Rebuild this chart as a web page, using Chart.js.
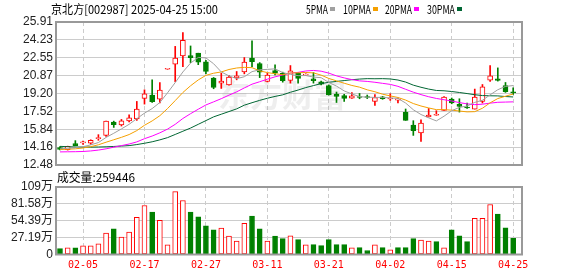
<!DOCTYPE html>
<html>
<head>
<meta charset="utf-8">
<script src="https://cdn.jsdelivr.net/npm/chart.js@4.4.1/dist/chart.umd.min.js"></script>
<style>
    html, body { margin: 0; padding: 0; background: #fff; }
    #wrap { position: relative; width: 578px; height: 276px; }
    #wrap canvas { position: absolute; left: 0; top: 0; }
</style>
</head>
<body>
<div id="wrap">
    <canvas id="k_chart" width="578" height="276"></canvas>
    <canvas id="v_chart" width="578" height="276"></canvas>
</div>
<script>
// daily data
const DATES = ["01-23","01-24","01-27","02-05","02-06","02-07","02-10","02-11","02-12","02-13",
    "02-14","02-17","02-18","02-19","02-20","02-21","02-24","02-25","02-26","02-27",
    "02-28","03-03","03-04","03-05","03-06","03-07","03-10","03-11","03-12","03-13",
    "03-14","03-17","03-18","03-19","03-20","03-21","03-24","03-25","03-26","03-27",
    "03-28","03-31","04-01","04-02","04-03","04-07","04-08","04-09","04-10","04-11",
    "04-14","04-15","04-16","04-17","04-18","04-21","04-22","04-23","04-24","04-25"];
const OPEN = [14.12,13.92,14.49,14.56,14.52,14.95,15.26,16.52,16.24,16.61,
    16.80,18.73,19.05,18.67,21.47,21.95,22.73,22.75,22.98,22.16,
    20.64,20.17,20.01,20.67,21.23,22.51,22.01,20.32,21.35,21.10,
    20.42,21.10,20.92,20.57,20.29,19.95,19.14,19.01,18.76,18.89,
    18.90,18.45,18.89,18.68,18.57,17.42,16.24,15.49,16.99,17.15,
    17.60,18.67,18.17,17.89,17.73,18.45,20.45,20.57,19.95,19.36];
const HIGH = [14.20,14.25,14.77,14.72,14.85,15.33,16.61,16.60,16.76,17.20,
    18.45,19.54,20.48,20.23,21.47,23.62,24.91,23.66,22.98,22.32,
    20.70,21.10,20.90,21.26,22.57,24.13,22.10,21.10,21.88,21.20,
    21.82,21.15,21.05,21.16,20.35,20.00,19.33,19.12,19.29,19.20,
    19.05,19.10,18.92,19.17,18.77,17.74,16.64,16.73,17.79,17.58,
    18.90,18.77,18.70,18.30,19.61,20.04,21.82,21.60,20.23,19.73];
const LOW = [13.90,13.88,14.28,14.42,14.42,14.80,15.17,16.01,16.14,16.52,
    16.67,18.20,18.35,18.30,21.47,20.30,21.72,22.10,21.90,21.05,
    19.64,19.67,19.98,20.48,21.04,21.72,20.69,20.28,20.95,20.26,
    20.17,20.17,20.90,20.17,20.00,19.05,18.35,18.45,18.74,18.70,
    18.72,18.07,18.65,18.55,18.30,16.67,15.26,14.70,16.99,17.15,
    17.60,18.23,17.45,17.80,17.73,18.30,20.32,20.36,19.30,19.10];
const CLOSE = [13.95,14.23,14.30,14.60,14.80,15.05,16.61,16.27,16.64,16.92,
    17.73,19.17,18.42,19.52,21.47,22.51,24.20,22.57,22.14,21.26,
    19.76,20.36,20.73,20.85,22.14,22.19,21.20,20.92,21.10,20.39,
    21.32,20.60,21.00,20.39,20.07,19.07,18.92,18.73,18.98,18.82,
    18.82,18.82,18.70,18.72,18.57,16.67,15.70,16.42,17.18,17.15,
    18.85,18.30,17.98,17.83,18.85,19.82,20.85,20.42,19.36,19.26];
const VOLUME = [95000,106000,106000,138000,138000,170000,345000,414000,281000,361000,
    600000,790000,684000,552000,154000,1013000,870000,684000,605000,462000,
    398000,424000,297000,218000,504000,621000,414000,218000,297000,255000,
    302000,239000,154000,159000,143000,239000,159000,159000,106000,111000,
    64000,154000,111000,74000,111000,111000,255000,233000,218000,207000,
    106000,398000,302000,207000,584000,584000,806000,653000,430000,259446];
const MA5 = [14.00,14.05,14.10,14.20,14.37,14.59,15.07,15.46,15.87,16.30,
    16.83,17.35,17.78,18.35,19.26,20.22,21.22,22.05,22.58,22.54,
    21.99,21.22,20.85,20.59,20.77,21.25,21.42,21.46,21.51,21.16,
    20.99,20.87,20.88,20.74,20.68,20.23,19.89,19.44,19.15,18.90,
    18.85,18.83,18.83,18.78,18.73,18.30,17.67,17.22,16.91,16.62,
    17.06,17.58,17.89,18.02,18.36,18.56,19.07,19.55,19.86,19.94];
const MA10 = [13.93,13.96,14.00,14.08,14.20,14.38,14.62,14.85,15.08,15.34,
    15.71,16.21,16.62,17.11,17.78,18.53,19.29,19.92,20.47,20.90,
    21.10,21.22,21.45,21.59,21.65,21.62,21.32,21.16,21.05,20.96,
    21.12,21.14,21.17,21.13,20.92,20.61,20.38,20.16,19.95,19.79,
    19.54,19.36,19.13,18.97,18.82,18.58,18.25,18.02,17.84,17.68,
    17.68,17.63,17.55,17.47,17.49,17.81,18.32,18.72,18.94,19.15];
const MA20 = [13.71,13.72,13.73,13.75,13.80,13.88,14.00,14.15,14.30,14.45,
    14.65,14.95,15.20,15.50,15.85,16.30,16.85,17.30,17.72,18.12,
    18.41,18.71,19.04,19.35,19.72,20.07,20.30,20.54,20.76,20.93,
    21.11,21.18,21.31,21.36,21.29,21.11,20.85,20.66,20.50,20.38,
    20.33,20.25,20.15,20.05,19.87,19.59,19.32,19.09,18.89,18.73,
    18.61,18.49,18.34,18.22,18.15,18.19,18.29,18.37,18.39,18.41];
const MA30 = [14.23,14.20,14.17,14.16,14.16,14.17,14.19,14.22,14.26,14.30,
    14.40,14.52,14.66,14.84,15.05,15.35,15.65,15.95,16.30,16.65,
    17.00,17.25,17.50,17.75,18.10,18.33,18.55,18.75,18.92,19.07,
    19.31,19.52,19.75,19.94,20.12,20.25,20.33,20.41,20.49,20.55,
    20.59,20.58,20.59,20.56,20.46,20.27,19.98,19.78,19.61,19.48,
    19.45,19.38,19.29,19.19,19.08,19.00,18.98,18.97,18.91,18.87];

const PRICE_TICKS = [12.48, 14.16, 15.84, 17.52, 19.20, 20.87, 22.55, 24.23, 25.91];
const VOL_TICKS = [0, 271900, 543800, 815700, 1087600];
const VOL_TICK_LABELS = ["0", "27.19万", "54.39万", "81.58万", "109万"];
const DATE_TICKS = [3, 11, 19, 27, 35, 43, 51, 59];   // index into DATES

const TITLE = "京北方[002987] 2025-04-25 15:00";
const MA_NAMES = ["5PMA", "10PMA", "20PMA", "30PMA"];
const MA_COLORS = ["#a0a0a0", "#f5a000", "#ff00ff", "#006633"];
const RED = "#ff0000", GREEN = "#008000";

Chart.defaults.font.family = "'Liberation Sans', 'Noto Sans CJK SC', sans-serif";
Chart.defaults.font.size = 12;
Chart.defaults.color = "#222";

function candleUp(i) { return CLOSE[i] >= OPEN[i]; }
function volUp(i) {
    if(CLOSE[i] !== OPEN[i]) return CLOSE[i] > OPEN[i];
    return i === 0 || CLOSE[i] >= CLOSE[i - 1];
}

function xScale(showLabels) {
    return {
        type: "linear",
        min: -0.52,
        max: 60.15,
        offset: false,
        afterBuildTicks: s => { s.ticks = DATE_TICKS.map(v => ({value: v})); },
        afterFit: s => { s.height = showLabels ? 21.5 : 0; },
        grid: {color: "#cccccc", drawTicks: false, offset: false},
        border: {display: false, dash: [4, 3]},
        ticks: {
            display: showLabels,
            autoSkip: false,
            color: RED,
            padding: 5,
            maxRotation: 0,
            font: {family: "'DejaVu Sans Mono', monospace", size: 10},
            callback: v => DATES[v]
        }
    };
}

const framePlugin = {
    id: "frame",
    afterDraw(chart) {
        const {ctx, chartArea: a} = chart;
        ctx.save();
        ctx.strokeStyle = "#999999";
        ctx.lineWidth = 2;
        ctx.strokeRect(a.left, a.top, a.right - a.left, a.bottom - a.top);
        ctx.restore();
    }
};

const headerPlugin = {
    id: "header",
    beforeDatasetsDraw(chart) {
        // faint site watermark behind the candles
        const ctx = chart.ctx;
        ctx.save();
        ctx.fillStyle = "rgba(150,150,150,0.16)";
        ctx.font = "bold 32px 'Noto Sans CJK SC'";
        ctx.textBaseline = "middle";
        ctx.fillText("东方财富", 218, 95);
        ctx.restore();
    },
    afterDraw(chart) {
        const ctx = chart.ctx;
        ctx.save();
        ctx.textBaseline = "middle";
        ctx.fillStyle = "#000";
        ctx.font = "12px 'Noto Sans CJK SC'";
        ctx.fillText(TITLE, 51, 9, 167);
        const textX = [306, 343, 385, 427];
        const boxX = [330, 373, 414, 457];
        MA_NAMES.forEach((name, k) => {
            ctx.fillStyle = "#000";
            ctx.fillText(name, textX[k], 9, boxX[k] - textX[k] - 2);
            ctx.fillStyle = MA_COLORS[k];
            ctx.fillRect(boxX[k], 7, 5, 4);
        });
        ctx.restore();
    }
};

const volLabelPlugin = {
    id: "volLabel",
    afterDraw(chart) {
        const ctx = chart.ctx;
        ctx.save();
        ctx.textBaseline = "middle";
        ctx.fillStyle = "#000";
        ctx.font = "12px 'Noto Sans CJK SC'";
        ctx.fillText("成交量:" + VOLUME[VOLUME.length - 1], 57, 177, 78);
        ctx.restore();
    }
};

const wicks = DATES.map((d, i) => ({x: i, y: [LOW[i], HIGH[i]]}));
const bodies = DATES.map((d, i) => ({x: i, y: [Math.min(OPEN[i], CLOSE[i]), Math.max(OPEN[i], CLOSE[i])]}));
const maSets = [MA5, MA10, MA20, MA30].map((arr, k) => ({
    type: "line",
    label: MA_NAMES[k],
    data: arr.map((v, i) => ({x: i, y: v})),
    borderColor: MA_COLORS[k],
    borderWidth: 1,
    pointRadius: 0,
    tension: 0,
    order: 0
}));

new Chart(document.getElementById("k_chart"), {
    type: "bar",
    data: {
        datasets: [
            ...maSets,
            {
                label: "body",
                data: bodies,
                grouped: false,
                barThickness: 5,
                minBarLength: 1,
                borderWidth: 1,
                borderSkipped: false,
                borderColor: c => candleUp(c.dataIndex) ? RED : GREEN,
                backgroundColor: c => candleUp(c.dataIndex) ? "#ffffff" : GREEN,
                order: 1
            },
            {
                label: "wick",
                data: wicks,
                grouped: false,
                barThickness: 1,
                borderWidth: 0,
                backgroundColor: c => candleUp(c.dataIndex) ? RED : GREEN,
                order: 2
            }
        ]
    },
    options: {
        responsive: false,
        animation: false,
        devicePixelRatio: 1,
        events: [],
        layout: {padding: {top: 22, bottom: 111, left: 0, right: 56}},
        plugins: {legend: {display: false}, tooltip: {enabled: false}},
        scales: {
            x: xScale(false),
            y: {
                min: 12.48,
                max: 25.91,
                afterBuildTicks: s => { s.ticks = PRICE_TICKS.map(v => ({value: v})); },
                afterFit: s => { s.width = 56; },
                grid: {color: "#cccccc", drawTicks: false},
                border: {display: false},
                ticks: {padding: 3, autoSkip: false, callback: v => v.toFixed(2)}
            }
        }
    },
    plugins: [headerPlugin, framePlugin]
});

new Chart(document.getElementById("v_chart"), {
    type: "bar",
    data: {
        datasets: [{
            label: "volume",
            data: VOLUME.map((v, i) => ({x: i, y: v})),
            barThickness: 5,
            borderWidth: 1,
            borderSkipped: false,
            borderColor: c => volUp(c.dataIndex) ? RED : GREEN,
            backgroundColor: c => volUp(c.dataIndex) ? "#ffffff" : GREEN
        }]
    },
    options: {
        responsive: false,
        animation: false,
        devicePixelRatio: 1,
        events: [],
        layout: {padding: {top: 187, bottom: 0, left: 0, right: 56}},
        plugins: {legend: {display: false}, tooltip: {enabled: false}},
        scales: {
            x: xScale(true),
            y: {
                min: 0,
                max: 1087600,
                afterBuildTicks: s => { s.ticks = VOL_TICKS.map(v => ({value: v})); },
                afterFit: s => { s.width = 56; },
                grid: {color: "#cccccc", drawTicks: false},
                border: {display: false},
                ticks: {padding: 3, autoSkip: false, callback: (v, i) => VOL_TICK_LABELS[i]}
            }
        }
    },
    plugins: [volLabelPlugin, framePlugin]
});
</script>
</body>
</html>
